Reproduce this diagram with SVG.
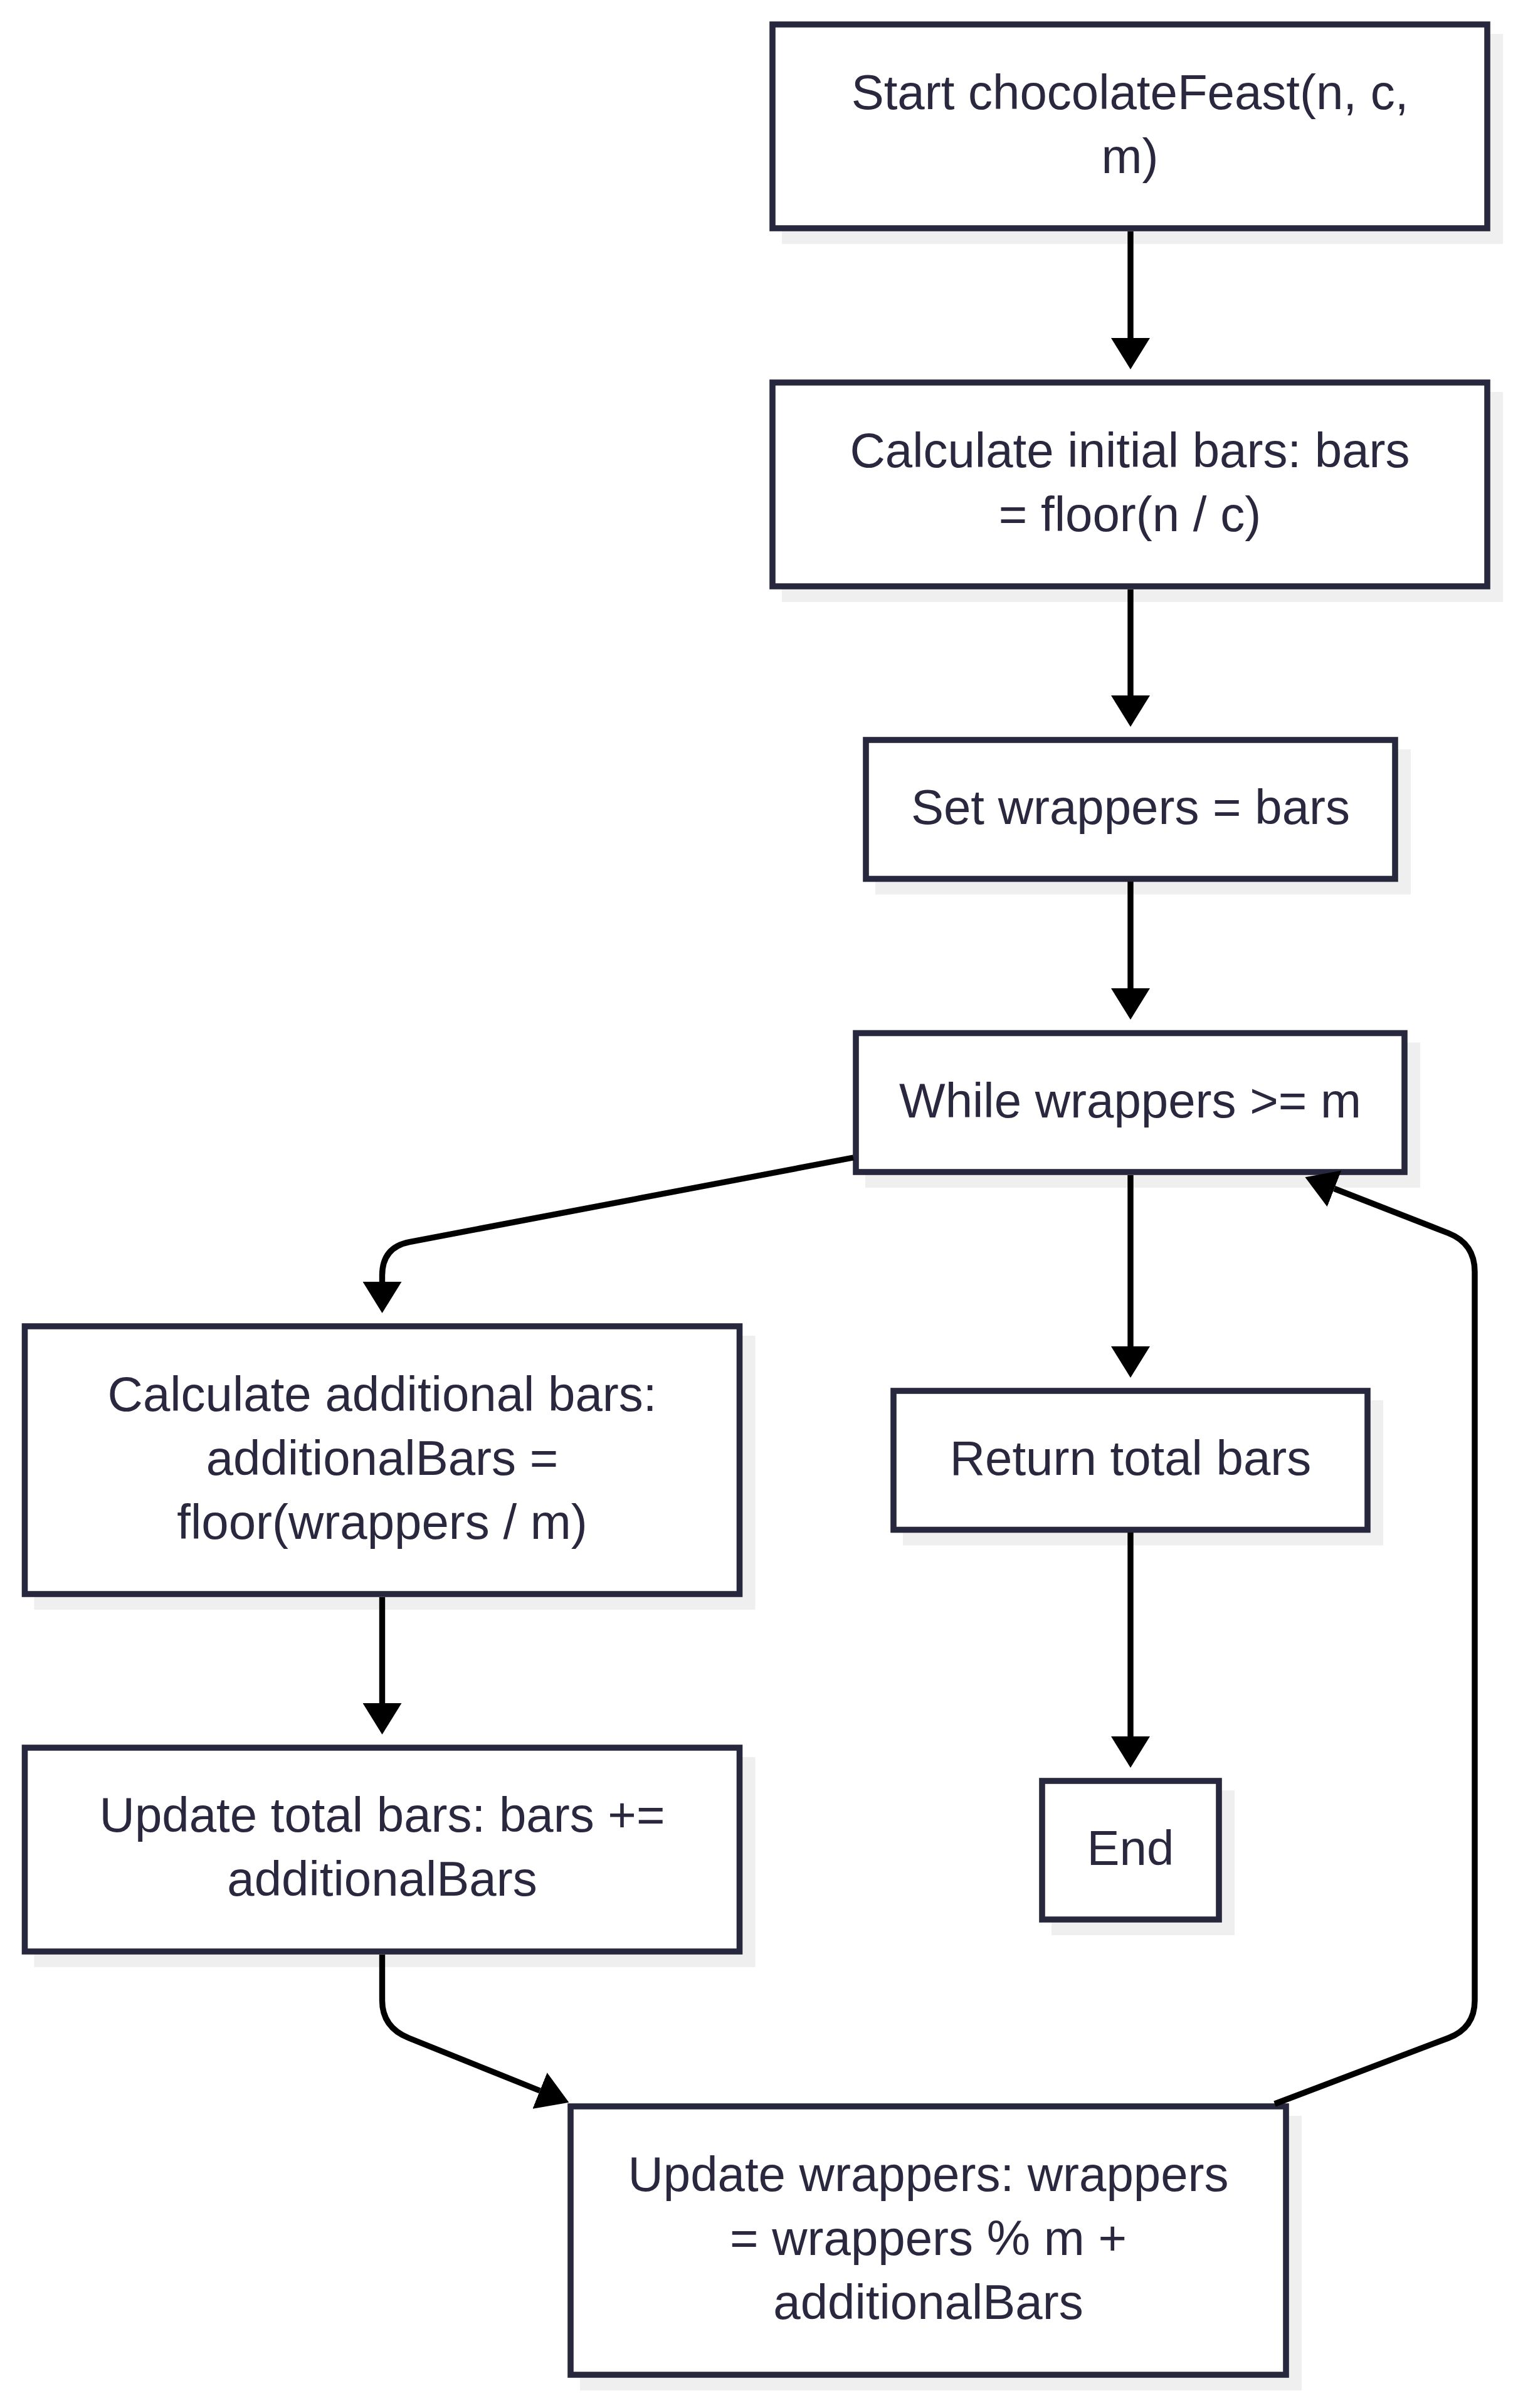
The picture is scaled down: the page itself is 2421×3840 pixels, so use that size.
<svg xmlns="http://www.w3.org/2000/svg" width="2421" height="3840" viewBox="0 0 2421 3840">
<style>
.sh{fill:#efefef;stroke:none}
.box{fill:#ffffff;stroke:#27273d;stroke-width:9.6}
.t{font-family:"Liberation Sans",Arial,sans-serif;font-size:78px;fill:#29283f;text-anchor:middle}
.e{fill:none;stroke:#000000;stroke-width:9.4}
</style>
<defs>
<marker id="ah" markerUnits="userSpaceOnUse" viewBox="0 0 50 62" markerWidth="50" markerHeight="62" refX="0" refY="31" orient="auto">
<path d="M0,0 L50,31 L0,62 z" fill="#000000"/>
</marker>
</defs>
<rect width="2421" height="3840" fill="#ffffff"/>
<g id="n1">
<rect class="sh" x="1247" y="54" width="1150" height="335"/>
<rect class="box" x="1232" y="39" width="1140" height="325"/>
<text class="t" x="1802" y="173.5">Start chocolateFeast(n, c,</text>
<text class="t" x="1802" y="275.5">m)</text>
</g>
<g id="n2">
<rect class="sh" x="1247" y="625" width="1150" height="335"/>
<rect class="box" x="1232" y="610" width="1140" height="325"/>
<text class="t" x="1802" y="744.5">Calculate initial bars: bars</text>
<text class="t" x="1802" y="846.5">= floor(n / c)</text>
</g>
<g id="n3">
<rect class="sh" x="1396" y="1195" width="854" height="231.5"/>
<rect class="box" x="1381" y="1180" width="844" height="221.5"/>
<text class="t" x="1803" y="1314">Set wrappers = bars</text>
</g>
<g id="n4">
<rect class="sh" x="1380" y="1662.5" width="885" height="231.5"/>
<rect class="box" x="1365" y="1647.5" width="875" height="221.5"/>
<text class="t" x="1802.5" y="1782">While wrappers &gt;= m</text>
</g>
<g id="n5">
<rect class="sh" x="54.5" y="2130" width="1150" height="437"/>
<rect class="box" x="39.5" y="2115" width="1140" height="427"/>
<text class="t" x="609.5" y="2249.5">Calculate additional bars:</text>
<text class="t" x="609.5" y="2351.5">additionalBars =</text>
<text class="t" x="609.5" y="2453.5">floor(wrappers / m)</text>
</g>
<g id="n6">
<rect class="sh" x="1440" y="2233" width="766" height="231.5"/>
<rect class="box" x="1425" y="2218" width="756" height="221.5"/>
<text class="t" x="1803" y="2352">Return total bars</text>
</g>
<g id="n7">
<rect class="sh" x="54.5" y="2802" width="1150" height="335"/>
<rect class="box" x="39.5" y="2787" width="1140" height="325"/>
<text class="t" x="609.5" y="2921">Update total bars: bars +=</text>
<text class="t" x="609.5" y="3023">additionalBars</text>
</g>
<g id="n8">
<rect class="sh" x="1677" y="2855" width="292" height="231"/>
<rect class="box" x="1662" y="2840" width="282" height="221"/>
<text class="t" x="1803" y="2974">End</text>
</g>
<g id="n9">
<rect class="sh" x="925" y="3374" width="1151" height="438"/>
<rect class="box" x="910" y="3359" width="1141" height="428"/>
<text class="t" x="1480.5" y="3494">Update wrappers: wrappers</text>
<text class="t" x="1480.5" y="3596">= wrappers % m +</text>
<text class="t" x="1480.5" y="3698">additionalBars</text>
</g>
<g id="connectors">
<path class="e" d="M1803 369 L1803 539" marker-end="url(#ah)"/>
<path class="e" d="M1803 940 L1803 1109" marker-end="url(#ah)"/>
<path class="e" d="M1803 1406 L1803 1576" marker-end="url(#ah)"/>
<path class="e" d="M1361 1846 L653 1980.6 Q609.5 1989 609.5 2034 L609.5 2044" marker-end="url(#ah)"/>
<path class="e" d="M1803 1874 L1803 2147" marker-end="url(#ah)"/>
<path class="e" d="M1803 2444 L1803 2769" marker-end="url(#ah)"/>
<path class="e" d="M609.5 2547 L609.5 2716" marker-end="url(#ah)"/>
<path class="e" d="M609.5 3117 L609.5 3190 Q609.5 3233 652 3250 L861 3334" marker-end="url(#ah)"/>
<path class="e" d="M2033 3355 L2310 3250 Q2352 3234 2352 3190 L2352 2028 Q2352 1983 2310 1966.5 L2128 1895.5" marker-end="url(#ah)"/>
</g>
</svg>
